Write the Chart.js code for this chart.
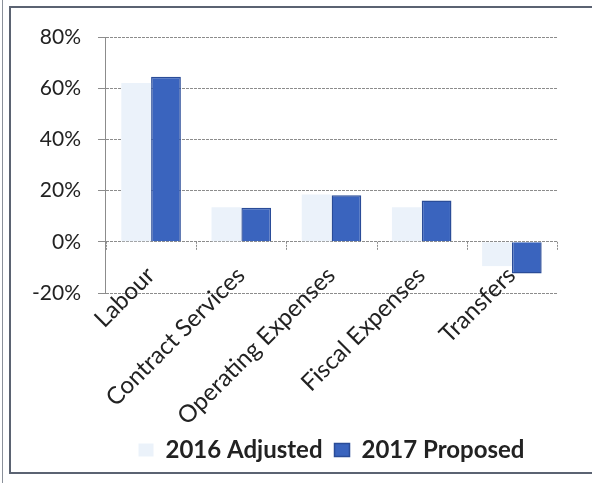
<!DOCTYPE html>
<html>
<head>
<meta charset="utf-8">
<script src="https://cdn.jsdelivr.net/npm/chart.js@4.4.1/dist/chart.umd.min.js"></script>
<style>
    html, body { margin: 0; padding: 0; background: #fff; }
    #wrap { position: relative; width: 592px; height: 483px; overflow: hidden; }
    #frame {
        position: absolute; left: 9px; top: 6px; width: 620px; height: 468px;
        border: 2px solid #5b6372; box-sizing: border-box;
    }
    #edge { position: absolute; left: 2px; top: 0; width: 1px; height: 483px; background: #8a909a; }
    #grafico { position: absolute; left: 0; top: 0; }
</style>
</head>
<body>
<div id="wrap">
    <div id="edge"></div>
    <div id="frame"></div>
    <canvas id="grafico" width="592" height="483"></canvas>
</div>
<script>
    // Categorías y porcentajes por año
    const categorias = ['Labour', 'Contract Services', 'Operating Expenses', 'Fiscal Expenses', 'Transfers'];
    const ajustado2016 = [62, 13.5, 18.5, 13.5, -9.5];
    const propuesto2017 = [64.5, 13.3, 18.2, 16.1, -12.4];
    const ticksY = [-20, 0, 20, 40, 60, 80];

    // Marcas en la línea del 0% y etiquetas de categoría giradas 45° junto a ella
    const ejeCero = {
        id: 'ejeCero',
        afterDatasetsDraw(chart) {
            const { ctx, scales: { x, y } } = chart;
            const y0 = y.getPixelForValue(0);
            const paso = (x.getPixelForValue(1) - x.getPixelForValue(0));
            ctx.save();
            ctx.strokeStyle = '#8a8a8a';
            ctx.lineWidth = 1;
            ctx.setLineDash([2, 1]);
            for (let i = 0; i <= categorias.length; i++) {
                const px = Math.round(x.getPixelForValue(0) - paso / 2 + paso * i) + 0.5;
                ctx.beginPath();
                ctx.moveTo(px, y0);
                ctx.lineTo(px, y0 + 8);
                ctx.stroke();
            }
            ctx.setLineDash([]);
            ctx.fillStyle = '#222';
            ctx.font = '24px Lato';
            ctx.textAlign = 'right';
            ctx.textBaseline = 'alphabetic';
            categorias.forEach((nombre, i) => {
                ctx.save();
                ctx.translate(x.getPixelForValue(i) + 5, y0 + 35);
                ctx.rotate(-Math.PI / 4);
                ctx.fillText(nombre, 0, 0);
                ctx.restore();
            });
            ctx.restore();
        }
    };

    new Chart(document.getElementById('grafico'), {
        type: 'bar',
        data: {
            labels: categorias,
            datasets: [{
                label: '2016 Adjusted',
                data: ajustado2016,
                backgroundColor: '#ebf2fa',
                borderWidth: 0
            }, {
                label: '2017 Proposed',
                data: propuesto2017,
                backgroundColor: '#3a64be',
                borderColor: '#2a4c98',
                borderWidth: 1.5
            }]
        },
        options: {
            responsive: false,
            animation: false,
            layout: {
                padding: { left: 15, right: 35, top: 37, bottom: 11 }
            },
            datasets: {
                bar: { categoryPercentage: 0.66, barPercentage: 1.0 }
            },
            scales: {
                x: {
                    grid: { display: false },
                    border: { display: false },
                    ticks: { display: false },
                    afterFit: (scale) => { scale.height = 133; }
                },
                y: {
                    min: -20,
                    max: 80,
                    afterBuildTicks: (scale) => {
                        scale.ticks = ticksY.map(v => ({ value: v }));
                    },
                    grid: {
                        color: '#8c8c8c',
                        lineWidth: 1,
                        tickLength: 8,
                        tickColor: '#8c8c8c'
                    },
                    border: { color: '#8c8c8c', dash: [3, 1] },
                    ticks: {
                        color: '#222',
                        font: { family: 'Lato', size: 21 },
                        padding: 17,
                        callback: (value) => value + '%'
                    }
                }
            },
            plugins: {
                legend: {
                    position: 'bottom',
                    fullSize: false,
                    onClick: null,
                    labels: {
                        color: '#222',
                        font: { family: 'Lato', size: 24, weight: 'bold' },
                        boxWidth: 15,
                        boxHeight: 13,
                        padding: 12
                    }
                },
                tooltip: { enabled: false }
            }
        },
        plugins: [ejeCero]
    });
</script>
</body>
</html>
